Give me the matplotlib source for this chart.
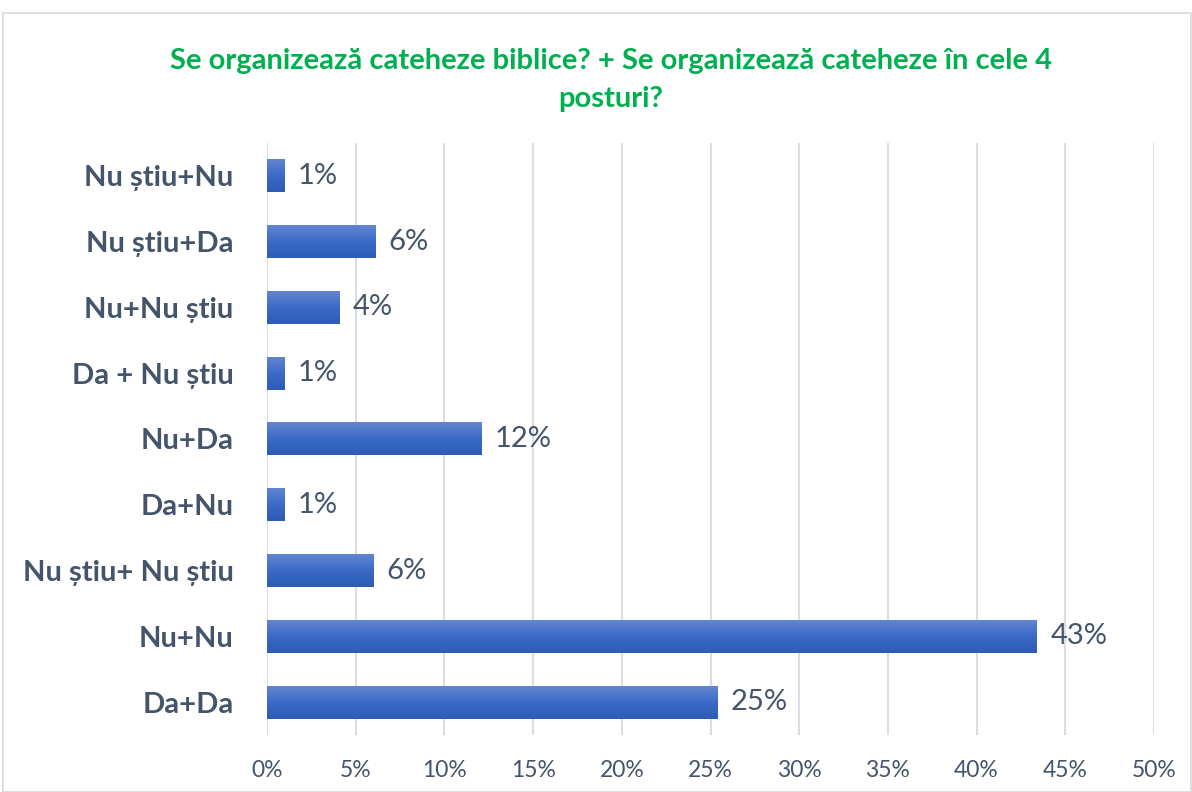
import matplotlib
matplotlib.use("Agg")
import matplotlib.pyplot as plt
import numpy as np
from matplotlib.patches import Rectangle
from matplotlib.colors import LinearSegmentedColormap

categories = ["Da+Da", "Nu+Nu", "Nu știu+ Nu știu", "Da+Nu", "Nu+Da",
              "Da + Nu știu", "Nu+Nu știu", "Nu știu+Da", "Nu știu+Nu"]
values = [25.4, 43.4, 6.0, 1.0, 12.1, 1.0, 4.1, 6.1, 1.0]
labels = ["25%", "43%", "6%", "1%", "12%", "1%", "4%", "6%", "1%"]
xticks = [0, 5, 10, 15, 20, 25, 30, 35, 40, 45, 50]
title = "Se organizează cateheze biblice? + Se organizează cateheze în cele 4\nposturi?"

plt.rcParams['font.family'] = ['Lato', 'DejaVu Sans']
TXT = "#44546a"

fig = plt.figure(figsize=(11.92, 7.92), dpi=100)
fig.patches.append(Rectangle((3/1192, 0), 1 - 4/1192, 1 - 13/792, transform=fig.transFigure,
                             fill=False, edgecolor="#d9d9d9", linewidth=1.2))
ax = fig.add_axes([267/1192, 57/792, (1154-267)/1192, (735-143)/792])

y = np.arange(len(categories))
bars = ax.barh(y, values, height=0.5, color="none", zorder=3)
# gradient: light at top of bar, dark at bottom
grad = np.linspace(0, 1, 100).reshape(-1, 1)
cmap = LinearSegmentedColormap.from_list("g", ["#2c5cb8", "#3a6ac6", "#6385d1"])
for b in bars:
    x0, y0 = b.get_x(), b.get_y()
    w, h = b.get_width(), b.get_height()
    ax.imshow(grad, extent=(x0, x0 + w, y0, y0 + h), origin="lower", cmap=cmap,
              aspect="auto", zorder=3, interpolation="bilinear")
for yi, v, lab in zip(y, values, labels):
    ax.text(v + 0.75, yi, lab, va="center", ha="left", fontsize=21, color=TXT)

ax.set_xlim(0, 50)
ax.set_ylim(-0.5, len(categories) - 0.5)
ax.set_xticks(xticks)
ax.set_xticklabels([f"{t}%" for t in xticks], fontsize=16.5, color=TXT)
ax.tick_params(axis="both", length=0)
ax.set_yticks(y)
ax.set_yticklabels(categories, fontsize=21, color=TXT, fontweight="bold")
ax.tick_params(axis="x", pad=18)
ax.tick_params(axis="y", pad=24)
ax.grid(axis="x", color="#d9dde4", linewidth=1.5, zorder=0)
for s in ax.spines.values():
    s.set_visible(False)
ax.set_axisbelow(True)

fig.text(611/1192, 1 - 80/792, title, ha="center", va="center", fontsize=21,
         fontweight="bold", color="#00b050", linespacing=1.6)

fig.savefig("out.png", dpi=100)
